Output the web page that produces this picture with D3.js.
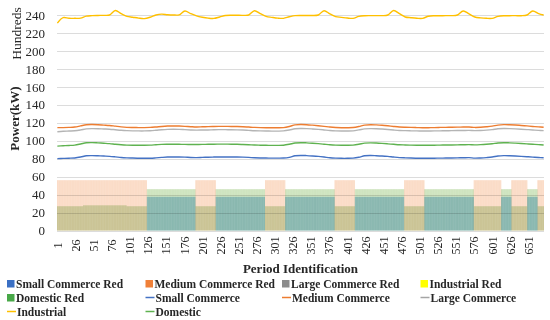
<!DOCTYPE html>
<html>
<head>
<meta charset="utf-8">
<script src="https://cdn.jsdelivr.net/npm/d3@7"></script>
<style>
  body { margin: 0; background: #fff; }
  svg { display: block; }
  text { font-family: "Liberation Serif", "DejaVu Serif", serif; fill: #262626; }
</style>
</head>
<body>
<div id="chart"></div>
<script>
// ---- data ----
const periodCount = 672;
const xTickLabels = d3.range(1, 652, 25);          // 1, 26, ... 651
const yTicks = [0, 20, 40, 60, 80, 100, 120, 140, 160, 180, 200, 220, 240];

// reduction columns, as [firstPeriod, lastPeriod, value]
const smallCommerceRed = [[125,191,37.5],[220,287,37.5],[316,383,37.5],[412,479,37.5],[508,575,37.5],[614,627,37.5],[650,663,37.5]];
const mediumCommerceRed = [[1,124,56],[192,219,56],[288,315,56],[384,411,56],[480,507,56],[576,613,56],[628,649,56],[664,672,56]];
const domesticRed = [[1,36,27],[37,96,28],[97,124,27],[125,191,46],[192,219,27],[220,287,46],[288,315,27],[316,383,46],
                     [384,411,27],[412,479,46],[480,507,27],[508,575,46],[576,613,27],[614,627,46],[628,649,27],[650,663,46],[664,672,27]];

// line series, read every 8 periods (1, 9, 17 ... 665) plus period 672
const linePeriods = d3.range(1, 666, 8).concat([672]);
const smallCommerce = [
  80.0,80.3,80.5,80.8,81.8,83.2,83.4,83.2,82.9,82.6,82.0,81.3,
  80.9,80.7,80.5,80.4,80.5,80.9,81.4,81.8,81.9,81.9,81.7,81.3,
  81.2,81.4,81.6,81.8,81.9,81.9,81.8,81.8,81.7,81.4,81.0,80.8,
  80.7,80.6,80.6,80.7,81.5,83.2,83.6,83.4,83.0,82.5,81.8,81.0,
  80.6,80.4,80.4,80.6,81.6,83.2,83.5,83.3,83.0,82.5,81.8,81.2,
  80.9,80.7,80.5,80.4,80.4,80.5,80.6,80.7,80.8,80.9,81.0,81.2,
  80.6,80.8,81.2,81.8,83.0,83.4,83.3,83.0,82.6,82.2,81.7,81.3,
  81.0];
const mediumCommerce = [
  114.6,114.6,114.8,115.2,116.5,117.8,118.0,117.8,117.4,117.0,116.2,115.4,
  114.9,114.7,114.6,114.6,114.8,115.3,115.9,116.3,116.4,116.3,116.0,115.6,
  115.3,115.5,115.7,115.9,116.0,116.0,115.9,115.8,115.6,115.2,114.8,114.6,
  114.5,114.4,114.4,114.6,115.8,117.6,118.0,117.8,117.3,116.7,116.0,115.2,
  114.7,114.5,114.5,114.7,115.8,117.4,117.8,117.6,117.2,116.6,115.9,115.3,
  115.0,114.8,114.6,114.5,114.5,114.6,114.8,114.9,115.0,115.1,115.2,115.3,
  114.8,115.0,115.5,116.2,117.4,117.9,117.8,117.5,117.0,116.5,115.9,115.4,
  115.0];
const largeCommerce = [
  110.0,110.5,110.8,111.1,112.0,113.2,113.5,113.4,113.1,112.8,112.2,111.6,
  111.2,111.0,110.9,110.9,111.1,111.6,112.2,112.6,112.7,112.6,112.3,112.0,
  111.8,111.9,112.0,112.2,112.3,112.3,112.2,112.1,111.9,111.5,111.1,110.9,
  110.8,110.7,110.7,110.9,111.9,113.3,113.6,113.5,113.1,112.6,112.0,111.4,
  111.0,110.8,110.8,111.0,112.0,113.2,113.5,113.4,113.0,112.5,111.9,111.4,
  111.2,111.0,110.9,110.8,110.8,110.9,111.0,111.1,111.2,111.3,111.4,111.5,
  111.2,111.4,111.8,112.4,113.3,113.6,113.5,113.2,112.8,112.4,111.9,111.5,
  111.2];
const industrial = [
  231.0,237.0,236.3,236.3,236.5,238.8,239.3,239.5,239.6,240.0,245.0,241.5,
  238.5,237.5,236.5,236.0,237.5,240.0,241.0,240.3,240.0,240.2,244.5,241.5,
  239.0,237.5,236.5,236.2,237.8,239.5,239.8,239.7,239.6,240.0,244.8,241.5,
  238.5,237.4,236.5,236.3,238.0,239.3,239.5,239.5,239.4,240.0,244.8,241.3,
  238.2,237.4,236.6,236.3,238.5,239.2,239.3,239.3,239.3,240.0,245.0,241.5,
  237.8,237.0,236.4,236.3,238.6,239.2,239.2,239.3,239.3,240.0,244.5,241.3,
  237.8,236.8,236.3,236.3,238.5,239.2,239.2,239.3,239.2,240.0,244.5,241.5,
  240.0];
const domestic = [
  94.0,94.4,94.7,95.1,96.3,97.7,97.9,97.6,97.2,96.8,96.1,95.5,
  95.1,94.9,94.9,94.9,95.1,95.5,95.9,96.0,96.0,96.0,95.9,95.8,
  95.8,95.9,96.0,96.1,96.2,96.2,96.1,96.0,95.8,95.5,95.2,95.0,
  94.9,94.8,94.8,95.0,96.0,97.4,97.8,97.6,97.2,96.7,96.1,95.5,
  95.1,94.9,94.9,95.1,96.0,97.3,97.6,97.4,97.0,96.5,96.0,95.5,
  95.3,95.1,95.0,94.9,94.9,95.0,95.1,95.2,95.3,95.4,95.5,95.6,
  95.4,95.6,96.0,96.6,97.5,97.8,97.6,97.3,96.9,96.5,96.0,95.6,
  95.2];

const legendItems = [
  { name: "Small Commerce Red", kind: "box", color: "#3a6fc4" },
  { name: "Medium Commerce Red", kind: "box", color: "#f08038" },
  { name: "Large Commerce Red", kind: "box", color: "#8c8c8c" },
  { name: "Industrial Red", kind: "box", color: "#ffff00" },
  { name: "Domestic Red", kind: "box", color: "#48a848" },
  { name: "Small Commerce", kind: "line", color: "#4472c4" },
  { name: "Medium Commerce", kind: "line", color: "#ed7d31" },
  { name: "Large Commerce", kind: "line", color: "#a5a5a5" },
  { name: "Industrial", kind: "line", color: "#ffc000" },
  { name: "Domestic", kind: "line", color: "#5fb250" }
];

// ---- layout ----
let width = 550, height = 320,
    plot = { left: 57, right: 544, top: 15, bottom: 230.5 };

let svg = d3.select("#chart").append("svg")
    .attr("width", width)
    .attr("height", height);

let xScale = d3.scaleBand()
    .domain(d3.range(1, periodCount + 1))
    .range([plot.left, plot.right])
    .padding(0);

let yScale = d3.scaleLinear()
    .domain([0, 240])
    .range([plot.bottom, plot.top]);

let bw = xScale.bandwidth();

// gridlines
svg.append("g")
    .selectAll("line")
    .data(yTicks)
    .enter().append("line")
    .attr("x1", plot.left).attr("x2", plot.right)
    .attr("y1", function(d) { return Math.round(yScale(d)) + 0.5; })
    .attr("y2", function(d) { return Math.round(yScale(d)) + 0.5; })
    .attr("stroke", "#dcdcdc")
    .attr("stroke-width", 1);

// columns
function expand(segs) {
  let out = [];
  segs.forEach(function(s) {
    for (let p = s[0]; p <= s[1]; p++) out.push({ p: p, v: s[2] });
  });
  return out;
}

function columns(segs, color, alpha) {
  svg.append("g")
      .attr("opacity", alpha)
      .style("mix-blend-mode", "multiply")
      .selectAll("rect")
      .data(expand(segs))
      .enter().append("rect")
      .attr("x", function(d) { return xScale(d.p); })
      .attr("width", bw)
      .attr("y", function(d) { return yScale(d.v); })
      .attr("height", function(d) { return yScale(0) - yScale(d.v); })
      .attr("fill", color);
}

columns(domesticRed, "#6fae42", 0.42);
columns(smallCommerceRed, "#3f90d0", 0.55);
columns(mediumCommerceRed, "#ee7a2c", 0.33);

// lines
let line = d3.line()
    .x(function(d) { return xScale(d.p) + bw / 2; })
    .y(function(d) { return yScale(d.v); })
    .curve(d3.curveCatmullRom.alpha(0.5));

function drawLine(values, color, w) {
  let pts = linePeriods.map(function(p, i) { return { p: p, v: values[i] }; });
  svg.append("path")
      .datum(pts)
      .attr("d", line)
      .attr("fill", "none")
      .attr("stroke", color)
      .attr("stroke-width", w);
}

drawLine(largeCommerce, "#b4b4b4", 1.4);
drawLine(mediumCommerce, "#ed7d31", 1.4);
drawLine(domestic, "#5fb250", 1.4);
drawLine(smallCommerce, "#4472c4", 1.4);
drawLine(industrial, "#ffc000", 1.4);

// axes
let yAxis = d3.axisLeft(yScale).tickValues(yTicks).tickSize(0).tickPadding(12);
let yAxis_g = svg.append("g")
    .attr("transform", "translate(" + plot.left + ",0)")
    .call(yAxis);
yAxis_g.select(".domain").remove();
yAxis_g.selectAll("text")
    .style("font-size", "13px")
    .style("fill", "#262626");

let xAxis = d3.axisBottom(xScale).tickValues(xTickLabels).tickSize(0);
let xAxis_g = svg.append("g")
    .attr("transform", "translate(0," + plot.bottom + ")")
    .call(xAxis);
xAxis_g.select(".domain").remove();
xAxis_g.selectAll("text")
    .attr("y", 0)
    .attr("dy", "0.35em")
    .attr("transform", "translate(0,15) rotate(-90)")
    .attr("text-anchor", "middle")
    .style("font-size", "12px")
    .style("fill", "#262626");

// axis titles
svg.append("text")
    .attr("transform", "translate(21,33.5) rotate(-90)")
    .attr("text-anchor", "middle")
    .style("font-size", "13.5px")
    .text("Hundreds");

svg.append("text")
    .attr("transform", "translate(19,118.5) rotate(-90)")
    .attr("text-anchor", "middle")
    .style("font-size", "13px")
    .style("font-weight", "bold")
    .text("Power(kW)");

svg.append("text")
    .attr("x", (plot.left + plot.right) / 2)
    .attr("y", 273)
    .attr("text-anchor", "middle")
    .style("font-size", "13px")
    .style("font-weight", "bold")
    .text("Period Identification");

// legend
let colX = [7, 145.5, 282, 420.5],
    rowY = [283.5, 297.5, 311.5];

let legend = svg.append("g")
    .selectAll("g")
    .data(legendItems)
    .enter().append("g")
    .attr("transform", function(d, i) {
      return "translate(" + colX[i % 4] + "," + rowY[Math.floor(i / 4)] + ")";
    });

legend.filter(function(d) { return d.kind === "box"; })
    .append("rect")
    .attr("x", 0).attr("y", -3.5)
    .attr("width", 7.5).attr("height", 7.5)
    .attr("fill", function(d) { return d.color; });

legend.filter(function(d) { return d.kind === "line"; })
    .append("line")
    .attr("x1", 0).attr("x2", 9)
    .attr("y1", 0).attr("y2", 0)
    .attr("stroke", function(d) { return d.color; })
    .attr("stroke-width", 1.5);

legend.append("text")
    .attr("x", function(d) { return d.kind === "box" ? 9 : 10; })
    .attr("y", 0)
    .attr("dy", "0.35em")
    .style("font-size", "11.5px")
    .style("font-weight", "bold")
    .text(function(d) { return d.name; });
</script>
</body>
</html>
